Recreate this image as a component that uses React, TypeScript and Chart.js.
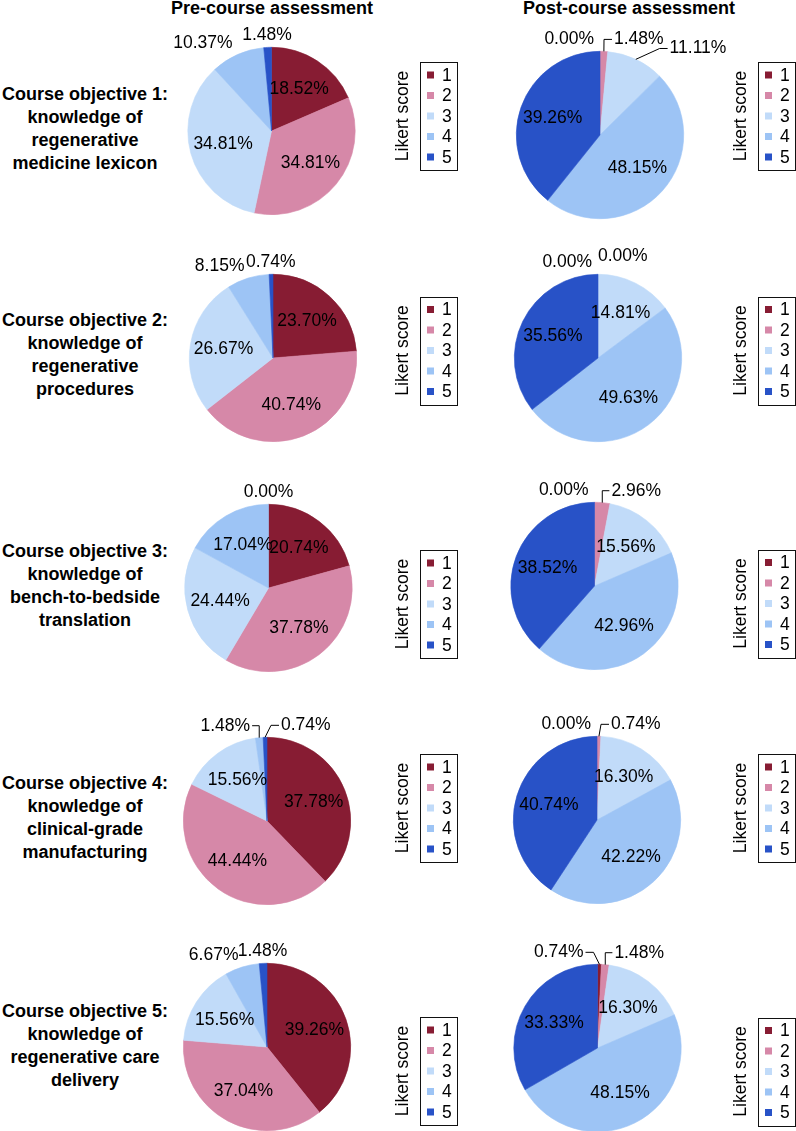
import React, { useEffect, useRef } from 'react';
import { Chart, registerables } from 'chart.js';

Chart.register(...registerables);

// ---------------- DATA ----------------
const LIKERT_SCORES = ['1', '2', '3', '4', '5'];

const PRE_OBJ1 = [18.52, 34.81, 34.81, 10.37, 1.48];
const POST_OBJ1 = [0.0, 1.48, 11.11, 48.15, 39.26];
const PRE_OBJ2 = [23.7, 40.74, 26.67, 8.15, 0.74];
const POST_OBJ2 = [0.0, 0.0, 14.81, 49.63, 35.56];
const PRE_OBJ3 = [20.74, 37.78, 24.44, 17.04, 0.0];
const POST_OBJ3 = [0.0, 2.96, 15.56, 42.96, 38.52];
const PRE_OBJ4 = [37.78, 44.44, 15.56, 1.48, 0.74];
const POST_OBJ4 = [0.0, 0.74, 16.3, 42.22, 40.74];
const PRE_OBJ5 = [39.26, 37.04, 15.56, 6.67, 1.48];
const POST_OBJ5 = [0.74, 1.48, 16.3, 48.15, 33.33];

const COLUMN_TITLES = ['Pre-course assessment', 'Post-course assessment'];
const LEGEND_TITLE = 'Likert score';
const ROW_LABELS = [
  ['Course objective 1:', 'knowledge of', 'regenerative', 'medicine lexicon'],
  ['Course objective 2:', 'knowledge of', 'regenerative', 'procedures'],
  ['Course objective 3:', 'knowledge of', 'bench-to-bedside', 'translation'],
  ['Course objective 4:', 'knowledge of', 'clinical-grade', 'manufacturing'],
  ['Course objective 5:', 'knowledge of', 'regenerative care', 'delivery'],
];

// ---------------- STYLE / LAYOUT ----------------
const COLORS = ['#871C33', '#D688A8', '#C1DBF9', '#9DC4F5', '#2852C7'];
const FONT = '"Liberation Sans", Arial, Helvetica, sans-serif';
const R = 84;

// label placement: i = inside, L/R/C = above pie (left/right/centred), + = leader line
const ROWS = [
  { pre: PRE_OBJ1, post: POST_OBJ1, preModes: ['i', 'i', 'i', 'L', 'C'], postModes: ['L', 'R+', 'R+', 'i', 'i'],
    preCx: 271.5, postCx: 600, preCy: 131, postCy: 135, legendCy: 116, labelCy: 129 },
  { pre: PRE_OBJ2, post: POST_OBJ2, preModes: ['i', 'i', 'i', 'L', 'C'], postModes: ['L', 'R', 'i', 'i', 'i'],
    preCx: 273, postCx: 598, preCy: 357.5, postCy: 357.5, legendCy: 350, labelCy: 355 },
  { pre: PRE_OBJ3, post: POST_OBJ3, preModes: ['i', 'i', 'i', 'i', 'C'], postModes: ['L', 'R+', 'i', 'i', 'i'],
    preCx: 268.5, postCx: 594.5, preCy: 587.5, postCy: 586, legendCy: 603.5, labelCy: 586 },
  { pre: PRE_OBJ4, post: POST_OBJ4, preModes: ['i', 'i', 'i', 'L+', 'R+'], postModes: ['L', 'R+', 'i', 'i', 'i'],
    preCx: 267, postCx: 597, preCy: 821, postCy: 820, legendCy: 808, labelCy: 818 },
  { pre: PRE_OBJ5, post: POST_OBJ5, preModes: ['i', 'i', 'i', 'L', 'C'], postModes: ['L+', 'R+', 'i', 'i', 'i'],
    preCx: 267, postCx: 597.5, preCy: 1047, postCy: 1047.5, legendCy: 1071, labelCy: 1046 },
];

const HALF_H = 120;

type PieProps = {
  values: number[];
  modes: string[];
  cx: number;
  cy: number;
  legendCy: number;
  side: 'pre' | 'post';
};

function PieCanvas({ values, modes, cx, cy, legendCy, side }: PieProps) {
  const ref = useRef<HTMLCanvasElement | null>(null);
  const left = side === 'pre' ? 170 : 480;
  const width = side === 'pre' ? 300 : 316;
  const top = cy - HALF_H;
  const height = HALF_H * 2;
  const boxLeftPage = side === 'pre' ? 420 : 758;

  useEffect(() => {
    if (!ref.current) return;
    const lcx = cx - left;
    const legendLocalY = legendCy - top;
    const boxLeft = boxLeftPage - left;

    const labelPlugin = {
      id: 'pctLabels',
      afterDatasetsDraw(chart: any) {
        const ctx = chart.ctx as CanvasRenderingContext2D;
        const meta = chart.getDatasetMeta(0);
        const data = chart.data.datasets[0].data as number[];
        ctx.save();
        ctx.font = `17.5px ${FONT}`;
        ctx.fillStyle = '#000';
        ctx.strokeStyle = '#000';
        ctx.lineWidth = 1;
        ctx.textBaseline = 'middle';
        let prevRight = -Infinity;
        meta.data.forEach((arc: any, i: number) => {
          const p = arc.getProps(['x', 'y', 'startAngle', 'endAngle', 'outerRadius'], true);
          const x = p.x, y = p.y, rad = p.outerRadius;
          const mid = (p.startAngle + p.endAngle) / 2;
          const text = data[i].toFixed(2) + '%';
          const mode = modes[i];
          if (mode === 'i') {
            ctx.textAlign = 'center';
            ctx.fillText(text, x + 0.6 * rad * Math.cos(mid), y + 0.6 * rad * Math.sin(mid));
            return;
          }
          const leader = mode.endsWith('+');
          const kind = mode[0];
          const ox = x + (rad + 12) * Math.cos(mid);
          const ty = y + (rad + 12) * Math.sin(mid);
          const ax = x + rad * Math.cos(mid);
          const ay = y + rad * Math.sin(mid);
          const w = ctx.measureText(text).width;
          if (kind === 'L') {
            const xr = Math.min(x - 6, ox) - (leader ? 8 : 0);
            ctx.textAlign = 'right';
            ctx.fillText(text, xr, ty);
            if (leader) {
              const ex = Math.min(ax, xr + 10);
              ctx.beginPath();
              ctx.moveTo(ax, ay);
              ctx.lineTo(ex, ty);
              ctx.lineTo(xr + 2, ty);
              ctx.stroke();
            }
          } else if (kind === 'R') {
            let xl = leader ? Math.max(x + 6, ox) + 8 : Math.max(x, ox);
            xl = Math.max(xl, prevRight + 6);
            const yy = leader ? ty : ty - 6;
            ctx.textAlign = 'left';
            ctx.fillText(text, xl, yy);
            prevRight = xl + w;
            if (leader) {
              const ex = Math.max(ax, xl - 10);
              ctx.beginPath();
              ctx.moveTo(ax, ay);
              ctx.lineTo(ex, ty);
              ctx.lineTo(xl - 2, ty);
              ctx.stroke();
            }
          } else {
            ctx.textAlign = 'center';
            ctx.fillText(text, ox, ty);
          }
        });
        ctx.restore();
      },
    };

    const legendPlugin = {
      id: 'likertLegend',
      afterDraw(chart: any) {
        const ctx = chart.ctx as CanvasRenderingContext2D;
        ctx.save();
        const bh = 108;
        const bw = 37;
        const by = legendLocalY - bh / 2;
        ctx.strokeStyle = '#111';
        ctx.lineWidth = 1;
        ctx.strokeRect(Math.round(boxLeft) + 0.5, Math.round(by) + 0.5, bw, bh);
        ctx.font = `17.5px ${FONT}`;
        ctx.textBaseline = 'middle';
        ctx.textAlign = 'left';
        const labels = chart.data.labels as string[];
        labels.forEach((lab: string, k: number) => {
          const yk = legendLocalY + (k - 2) * 20.5;
          ctx.fillStyle = COLORS[k];
          ctx.fillRect(boxLeft + 7, yk - 3.5, 7, 7);
          ctx.fillStyle = '#000';
          ctx.fillText(lab, boxLeft + 22, yk + 1);
        });
        ctx.translate(boxLeft - 17, legendLocalY);
        ctx.rotate(-Math.PI / 2);
        ctx.textAlign = 'center';
        ctx.fillStyle = '#000';
        ctx.fillText(LEGEND_TITLE, 0, 0);
        ctx.restore();
      },
    };

    const chart = new Chart(ref.current, {
      type: 'pie',
      data: {
        labels: LIKERT_SCORES,
        datasets: [
          {
            data: values,
            backgroundColor: COLORS,
            borderColor: COLORS,
            borderWidth: 0.6,
            hoverOffset: 0,
            hoverBorderWidth: 0,
          } as any,
        ],
      },
      options: {
        responsive: false,
        animation: false,
        events: [],
        radius: R - 0.3,
        layout: {
          padding: {
            left: lcx - R,
            right: width - (lcx + R),
            top: HALF_H - R,
            bottom: HALF_H - R,
          },
        },
        plugins: {
          legend: { display: false },
          tooltip: { enabled: false },
        },
      } as any,
      plugins: [labelPlugin, legendPlugin],
    });
    return () => chart.destroy();
  }, [values, modes, cx, cy, legendCy, side]);

  return (
    <canvas
      ref={ref}
      width={width}
      height={height}
      style={{ position: 'absolute', left, top, width, height }}
    />
  );
}

export default function App() {
  return (
    <div
      style={{
        position: 'absolute',
        left: 0,
        top: 0,
        width: 796,
        height: 1131,
        overflow: 'hidden',
        background: '#fff',
        fontFamily: FONT,
        color: '#000',
      }}
    >
      <div style={{ position: 'absolute', left: 122, top: -1, width: 300, textAlign: 'center', fontWeight: 'bold', fontSize: 18, lineHeight: '18px', whiteSpace: 'nowrap' }}>
        {COLUMN_TITLES[0]}
      </div>
      <div style={{ position: 'absolute', left: 479, top: -1, width: 300, textAlign: 'center', fontWeight: 'bold', fontSize: 18, lineHeight: '18px', whiteSpace: 'nowrap' }}>
        {COLUMN_TITLES[1]}
      </div>
      {ROWS.map((row, r) => (
        <React.Fragment key={r}>
          <div
            style={{
              position: 'absolute',
              left: 0,
              width: 170,
              top: row.labelCy - 46,
              textAlign: 'center',
              fontWeight: 'bold',
              fontSize: 18,
              lineHeight: '23px',
              whiteSpace: 'nowrap',
            }}
          >
            {ROW_LABELS[r].map((line, k) => (
              <div key={k}>{line}</div>
            ))}
          </div>
          <PieCanvas values={row.pre} modes={row.preModes} cx={row.preCx} cy={row.preCy} legendCy={row.legendCy} side="pre" />
          <PieCanvas values={row.post} modes={row.postModes} cx={row.postCx} cy={row.postCy} legendCy={row.legendCy} side="post" />
        </React.Fragment>
      ))}
    </div>
  );
}
